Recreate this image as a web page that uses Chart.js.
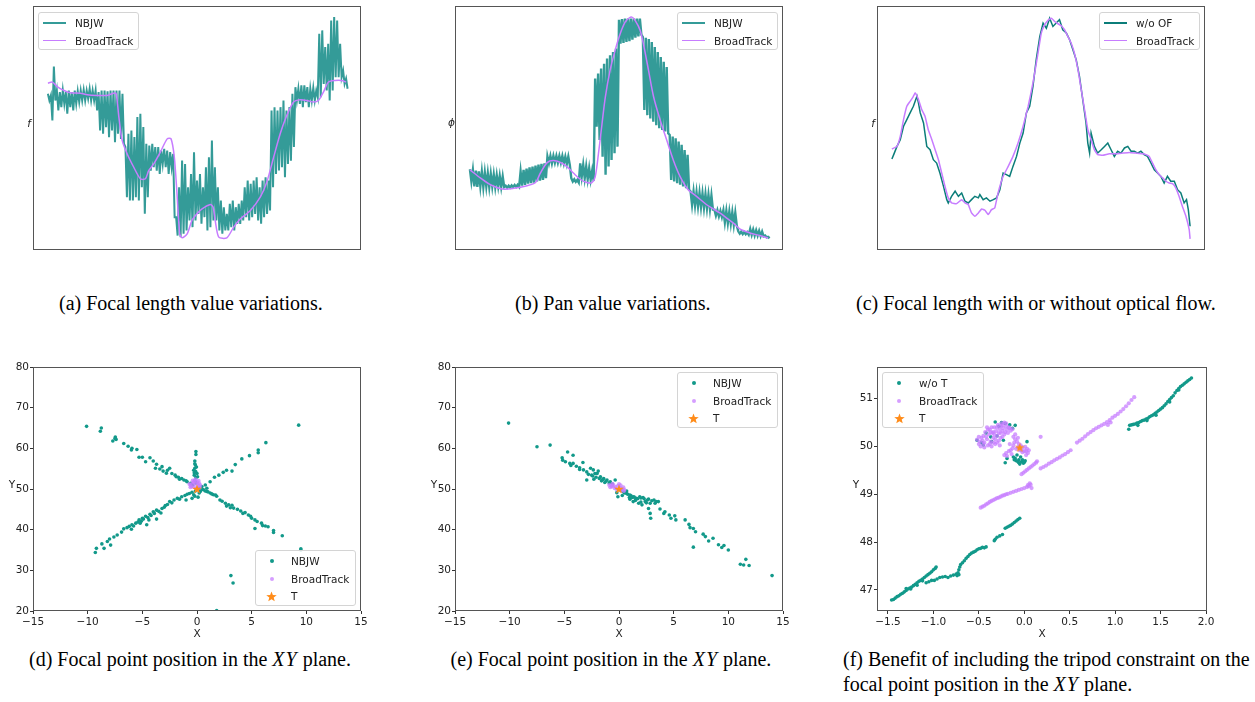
<!DOCTYPE html>
<html>
<head>
<meta charset="utf-8">
<script src="https://cdn.jsdelivr.net/npm/chart.js@4.4.0/dist/chart.umd.min.js"></script>
<style>
  body { margin:0; background:#fff; width:1255px; height:702px; position:relative; overflow:hidden; font-family:"DejaVu Sans", sans-serif; }
  canvas { position:absolute; }
  .cap { position:absolute; font-family:"Liberation Serif","Times New Roman",serif; font-size:20px; line-height:25px; color:#000; white-space:nowrap; }
  .cap i { font-style:italic; letter-spacing:1px; }
  .legend { position:absolute; background:rgba(255,255,255,0.8); border:1px solid #d4d4d4; border-radius:3px; box-sizing:border-box; font-size:10.5px; color:#222; }
  .legend span { position:absolute; white-space:nowrap; line-height:14px; }
  .legend .mk { position:absolute; }
</style>
</head>
<body>
<script>
// ---------- (a) focal length : NBJW jitter band (upper/lower every half frame) and BroadTrack ----------
const nbjwFocalA = [
  65.4,62.4, 64.7,53.4, 77.7,62.4, 66.9,57.9, 66.2,59.4, 66.9,60.9, 66.2,56.4, 66.9,59.4, 66.2,57.9, 66.9,60.9,
  66.6,61.7, 66.9,62.4, 67.2,62.4, 66.9,63.2, 67.7,62.4, 66.9,62.4, 66.9,57.9, 66.2,48.9, 66.9,47.4, 66.9,50.4,
  66.6,45.9, 66.9,48.9, 66.9,43.6, 66.9,47.4, 66.9,45.1, 65.4,42.9, 41.4,18.8, 47.4,17.3, 48.9,17.3, 45.9,18.8,
  54.9,17.3, 56.4,23.3, 50.4,11.3, 42.9,18.8, 42.1,30.8, 42.9,32.3, 41.4,30.8, 41.4,29.3, 39.8,33.8, 40.6,32.3,
  39.8,29.3, 39.1,32.3, 38.3,9.8, 9.8,1.5, 23.3,0.8, 35.3,2.3, 33.8,3.8, 23.3,8.3, 29.3,5.3, 39.1,8.3,
  26.3,11.3, 29.3,6.8, 23.3,9.8, 32.3,3.8, 36.8,5.3, 44.4,8.3, 32.3,8.3, 23.3,3.8, 17.3,2.3, 14.3,3.8,
  11.3,3.8, 15.8,5.3, 17.3,3.8, 14.3,6.8, 15.8,6.8, 17.3,8.3, 23.3,9.8, 26.3,8.3, 24.8,9.8, 26.3,11.3,
  27.8,8.3, 23.3,6.8, 26.3,9.8, 27.8,11.3, 26.3,12.8, 57.9,23.3, 59.4,29.3, 57.9,30.8, 59.4,32.3, 62.4,27.8,
  57.9,33.8, 59.4,35.3, 65.4,41.4, 68.4,62.4, 67.7,60.9, 69.2,59.4, 69.2,61.7, 68.4,59.4, 67.7,62.4, 68.1,62.4,
  66.9,63.9, 92.5,63.9, 94.0,69.9, 86.5,66.9, 88.0,62.4, 98.5,66.9, 100,72.9, 98.5,72.9, 88.0,72.9, 75.9,69.9, 72.2,67.7
];
const btFramesA = [0,1.5,3.1,5.4,7.6,10.9,13.2,16.5,19.9,22.1,22.9,23.8,24.9,26.6,28.8,31.0,32.7,33.8,35.5,37.7,
  40.0,41.3,42.4,43.3,44.2,45.0,46.7,48.3,50.0,51.7,54.5,55.4,56.1,57.3,60.0,62.3,64.5,67.9,71.2,73.4,
  75.7,77.9,80.1,82.4,84.6,86.8,89.1,90.7,92.4,94.1,96.3,98.5,100];
const btFocalA = [70.2,70.7,68.7,66.9,65.9,65.7,65.0,64.7,64.7,65.7,65.4,54.9,44.4,38.3,32.3,27.1,27.1,30.8,33.8,39.1,
  45.1,45.1,36.8,20.3,2.3,0.5,2.3,8.3,11.3,13.5,15.5,14.3,8.3,0.8,0.5,5.3,9.0,12.8,18.8,25.6,
  36.8,47.4,55.6,61.7,62.7,62.4,61.7,62.4,66.2,70.7,71.4,71.4,70.7];

// ---------- (b) pan ----------
const nbjwPanB = [
  31.4,25.9, 31.1,23.7, 30.8,23.4, 30.5,23.7, 30.2,23.4, 29.9,23.7, 29.6,23.4, 29.3,23.7, 29.0,23.4, 28.7,23.7,
  28.4,23.4, 28.1,23.4, 24.0,23.1, 24.0,23.2, 24.1,23.4, 24.3,23.4, 24.4,23.5, 30.4,24.0, 31.1,24.4, 31.7,24.9,
  32.2,25.1, 32.6,25.4, 33.1,25.9, 33.5,26.3, 33.8,26.6, 34.1,27.4, 37.1,34.1, 37.4,34.1, 37.4,34.4, 37.4,34.4,
  37.4,34.4, 37.4,34.1, 37.1,33.8, 37.1,33.4, 27.4,25.9, 26.9,25.7, 26.6,25.4, 34.1,28.1, 33.4,27.4, 32.6,26.9,
  31.9,26.6, 30.8,26.2, 72.3,50.6, 74.6,44.6, 76.8,37.1, 79.0,28.9, 81.3,32.6, 82.8,35.6, 84.3,38.6, 85.8,41.6,
  98.8,88.0, 99.1,88.3, 99.3,88.8, 99.3,89.2, 99.3,89.8, 99.3,90.7, 99.3,91.3, 99.3,92.1, 91.0,58.1, 90.7,55.8,
  90.1,54.3, 88.8,52.8, 86.5,51.3, 84.3,49.9, 82.0,49.1, 79.8,48.4, 77.5,47.6, 46.9,26.6, 46.1,25.9, 45.4,25.1,
  43.9,24.4, 42.4,23.7, 40.1,22.9, 37.9,22.2, 21.4,15.4, 21.3,15.1, 21.0,14.7, 20.7,14.4, 20.4,14.1, 20.1,13.8,
  19.8,13.5, 19.5,13.2, 13.2,10.5, 12.9,10.2, 12.6,9.9, 12.9,7.5, 12.6,7.2, 12.3,6.9, 12.0,6.4, 11.7,6.0,
  3.4,2.4, 3.3,2.2, 3.1,2.1, 3.0,1.9, 4.5,1.8, 4.2,1.6, 3.9,1.5, 3.6,1.3, 3.3,1.2, 1.5,0.7, 0.9,0.3
];
const btFramesB = [0,3.6,6.9,10.8,14.7,19.2,22.0,23.6,25.9,28.1,30.9,33.1,34.8,37.0,39.2,40.9,42.0,43.1,44.3,45.4,
  47.0,48.7,50.4,52.1,53.5,54.3,55.4,57.1,58.4,59.9,61.6,63.8,66.0,68.2,70.5,73.2,76.0,79.4,81.6,83.8,
  86.1,88.3,90.5,93.9,97.2,100];
const btPanB = [31.1,27.4,24.4,22.5,22.8,24.0,25.4,29.6,34.4,35.3,34.1,31.9,29.6,26.9,25.4,25.4,27.9,38.3,51.8,63.8,
  76.0,85.0,92.5,97.8,99.7,100,98.5,94.0,86.5,76.0,64.1,53.6,44.6,35.6,28.1,22.2,19.2,15.4,13.5,11.7,
  9.4,7.2,4.5,2.7,1.5,0.4];

// ---------- (c) focal length with / without optical flow ----------
const wooFramesC = [0.0,0.6,1.7,2.8,3.9,5.0,6.1,7.2,8.4,8.9, 9.5,10.6,11.7,12.8,13.9,15.0,16.1,17.3,18.4,18.9,
  20.0,21.2,22.3,23.4,24.5,25.6,26.7,27.8,29.0,29.5, 30.6,31.7,32.9,34.0,35.1,36.2,37.3,38.4,39.5,40.6,
  41.8,42.9,44.0,45.1,46.2,47.3,48.4,49.6,50.7,51.8, 52.9,54.0,55.1,56.2,57.3,58.5,59.6,60.7,61.8,62.9,
  64.0,65.1,65.7,66.3,66.8,67.9,69.0,70.2,71.3,72.4, 73.5,74.6,75.7,76.8,78.0,79.1,80.2,81.3,82.4,83.5,
  84.6,85.7,86.9,88.0,89.1,90.2,91.3,92.4,93.5,94.7, 95.8,96.9,98.0,98.8,99.4,100];
const wooFocalC = [36.0,38.0,41.7,44.7,50.8,53.8,56.8,59.8,64.3,61.3, 56.8,52.3,41.7,40.2,35.7,34.2,29.7,23.7,17.7,16.2,
  19.2,21.5,19.2,20.7,17.0,16.2,17.7,19.2,18.5,20.0, 17.7,18.5,17.0,17.7,18.5,22.2,29.7,29.0,28.2,32.7,
  37.2,43.2,47.7,56.8,59.8,68.8,80.8,91.3,97.3,95.0, 99.5,95.8,97.3,98.8,94.3,92.8,89.8,85.3,80.8,73.3,
  62.8,52.3,43.2,38.7,47.7,41.7,38.7,40.2,41.7,43.2, 40.2,37.2,39.5,38.7,41.0,41.7,39.5,39.5,38.7,39.5,
  38.0,37.2,34.2,31.2,29.7,28.2,25.2,28.2,26.0,26.0, 22.2,20.7,16.2,17.7,13.2,5.7];
const btFramesC = [0.0,1.7,2.8,3.9,5.0,6.1,7.2,7.8,8.9,10.0, 11.1,12.2,13.4,14.5,15.6,16.7,17.8,18.9,20.0,21.7,
  23.4,24.5,25.6,26.7,27.8,29.0,30.1,31.2,32.3,33.4, 34.5,35.6,37.3,39.0,40.6,42.3,44.0,45.7,47.3,49.0,
  50.1,51.2,52.3,53.5,54.6,55.7,56.8,57.9,59.0,60.1, 61.2,62.4,63.5,64.6,65.7,66.8,67.9,69.0,70.7,72.9,
  75.2,77.4,79.6,81.8,84.1,85.2,86.3,87.4,88.5,89.6, 90.8,91.9,93.0,94.1,95.2,96.3,97.4,98.6,99.7,100];
const btFocalC = [40.5,41.7,46.2,53.8,59.8,62.0,64.3,65.8,62.8,58.3, 55.3,49.2,44.7,40.2,35.7,29.7,23.7,18.5,16.2,15.9,
  17.7,16.2,15.5,11.7,10.2,11.7,13.5,12.9,11.0,13.2, 14.0,20.7,28.2,32.7,37.2,43.2,50.8,59.8,70.3,83.8,
  92.8,96.5,98.5,99.5,98.0,97.0,96.1,94.3,91.3,88.3, 83.8,76.3,67.3,58.3,49.2,44.7,40.2,38.0,37.7,38.4,
  38.4,38.7,39.0,38.7,38.4,38.0,37.2,34.2,31.2,29.0, 27.5,26.0,25.2,24.9,23.0,19.2,14.7,10.2,4.2,0.0];

// ---------- (d) focal point XY, NBJW vs BroadTrack ----------
const nbjwXYD = [
  [-10.1,65.4],[-8.75,65.0],[-8.84,64.2],[-7.47,62.8],[-7.4,62.2],[-7.7,61.8],[-6.7,61.2],[-6.3,60.5],[-5.95,60.0],[-5.5,59.7],
  [-5.3,57.8],[-4.3,57.7],[-4.7,56.7],[-4.0,56.9],[-3.7,56.1],[-3.8,55.1],[-3.2,55.5],[-3.1,54.4],[-2.7,54.6],[-2.5,55.1],
  [-2.3,53.8],[-2.0,53.4],[-1.7,52.9],[-1.4,52.6],[-1.2,52.2],[-0.9,51.8],[-0.6,51.4],[-0.4,51.0],[0.15,50.2],[0.6,49.8],
  [0.9,49.4],[1.2,49.0],[1.5,48.6],[1.8,48.2],[2.1,47.3],[2.6,46.5],[2.9,46.1],[3.05,45.4],[3.35,45.3],[4.0,44.6],
  [4.4,44.2],[4.7,43.6],[5.0,42.8],[5.3,42.4],[5.5,42.0],[5.9,41.6],[6.25,40.9],[5.3,40.3],[7.0,39.8],[7.0,39.3],
  [7.8,38.5],[9.5,35.3],[-1.0,52.0],[-1.6,52.4],[-1.9,53.0],[0.3,49.6],[0.45,49.9],[0.75,49.5],[1.0,49.3],[1.35,48.8],
  [2.3,47.0],[3.2,46.0],[3.7,45.0],[4.2,44.0],[4.9,43.3],[6.0,41.0],[6.5,40.7],[2.7,45.8],[1.7,48.5],[-3.4,54.9],
  [-2.8,53.9],[-5.0,57.8],[-6.0,59.6],[-7.5,62.4],
  [1.8,20.1],[3.1,28.7],[3.3,26.9],[9.3,65.7],
  [-9.3,34.4],[-9.2,35.4],[-8.7,36.5],[-8.5,35.4],[-8.0,37.7],[-7.9,36.2],[-8.2,37.1],[-7.3,38.7],[-6.9,39.4],[-6.7,40.2],
  [-6.2,40.8],[-5.95,41.2],[-5.6,41.6],[-5.3,42.4],[-5.0,42.8],[-4.7,43.3],[-4.6,41.2],[-4.3,43.8],[-4.0,44.4],[-3.7,44.8],
  [-3.7,42.6],[-3.2,45.2],[-2.9,45.9],[-2.5,46.9],[-2.1,47.3],[-1.8,47.7],[-1.4,48.1],[-0.9,48.7],[-0.46,49.2],[-0.15,49.5],
  [0.76,51.0],[1.2,51.8],[1.6,52.9],[2.0,53.4],[2.4,54.1],[2.7,54.6],[3.2,54.4],[3.5,56.0],[4.1,57.4],[4.8,58.2],
  [5.6,59.6],[5.6,58.9],[6.3,61.4],[-7.6,38.2],[-6.4,40.5],[-5.8,40.9],[-5.4,41.9],[-5.1,42.1],[-4.9,42.6],[-4.5,43.0],
  [-4.2,43.5],[-3.9,44.0],[-3.5,44.5],[-3.0,45.5],[-2.7,46.2],[-2.3,46.6],[-1.6,47.5],[-1.1,48.4],[-0.7,48.9],[-5.2,41.6],
  [-6.0,40.1],[-4.4,42.4],[-3.3,44.1],
  [-0.1,59.2],[-0.1,58.5],[-0.2,56.9],[-0.15,55.9],[-0.2,55.1],[-0.12,54.3],[-0.25,53.4],[-0.1,52.8],[-0.2,52.0],[0,53.8],
  [-0.3,54.6],[-0.3,48.6],[-0.45,47.7],[-1.0,47.3],[-0.2,56.2],[-0.05,55.4],[-0.25,54.0],[0.05,53.0],[-0.1,51.5],
  [0.3,49.4],[0.9,50.2],[0.45,50.6],[0.2,49.0],[-0.2,48.2],[0.1,48.0],[9.5,35.0]
];
const btXYD = [[-0.6,51.0],[-0.4,51.5],[-0.2,52.0],[0.0,51.8],[0.2,51.4],[-0.3,50.5],[-0.1,50.2],[0.1,50.8],[-0.5,50.6],[-0.2,51.2],
  [0.3,50.9],[-0.4,52.1],[0.0,50.0],[-0.7,51.2],[0.15,52.0],[-0.3,51.7],[0.25,50.3],[-0.6,50.4],[0.05,51.3],[-0.15,52.4]];
const targetD = [[0, 50]];

// ---------- (e) ----------
const nbjwXYE = [
  [-10.1,66.2],[-7.5,60.4],[-6.3,60.8],[-5.2,57.7],[-4.7,59.1],[-4.2,58.3],[-5.15,57.1],[-4.9,56.7],[-4.5,56.3],[-4.2,56.3],
  [-3.3,56.5],[-3.6,55.2],[-3.25,54.7],[-2.95,54.2],[-2.6,55.1],[-2.35,54.7],[-2.0,53.8],[-2.5,53.4],[-2.95,52.2],[-1.7,53.0],
  [-1.4,52.6],[-1.1,52.2],[-0.8,51.8],[-0.35,52.2],[-1.9,54.4],[-2.2,53.8],[-1.6,52.0],[-0.1,48.1],[0.4,49.3],[0.7,48.9],
  [1.0,48.5],[1.3,48.1],[1.6,47.7],[1.9,48.1],[2.2,47.9],[2.7,47.5],[3.2,47.3],[3.6,46.9],[1.0,47.5],[1.3,46.9],
  [1.8,46.5],[2.1,46.1],[2.4,46.9],[0.95,47.9],[2.85,46.5],[2.7,45.2],[2.85,44.0],[2.9,42.8],[3.75,45.1],[4.1,44.0],
  [4.2,44.4],[4.6,43.6],[4.75,42.8],[5.1,43.4],[5.2,42.4],[6.05,42.4],[6.4,41.3],[6.5,40.5],[6.8,40.3],[7.0,39.5],
  [6.8,35.7],[7.7,38.9],[7.9,38.3],[8.2,37.2],[8.6,37.9],[9.1,36.3],[9.4,35.6],[9.6,36.1],[10.0,35.0],[11.1,31.5],
  [11.4,31.3],[11.6,32.7],[11.9,31.2],[14.0,28.7],[0.25,49.7],[0.7,49.5],
  [-2.8,53.6],[-2.4,53.2],[-2.1,52.9],[-1.8,52.6],[-1.5,52.3],[-1.2,51.9],[-0.9,51.5],[-0.6,51.2],[0.5,49.0],[0.8,48.7],
  [1.1,48.3],[1.4,48.0],[1.7,47.6],[2.0,47.8],[2.3,47.6],[2.6,47.3],[3.0,47.1],[3.4,46.9],[1.5,47.2],[1.2,47.9],
  [2.0,46.8],[2.5,46.6],[3.3,46.5],[-3.9,55.6],[-4.4,55.8],[-1.3,51.6],[-2.3,52.4],[-3.6,54.8],[0.3,48.4],[-0.2,49.1]
];
const btXYE = [[-0.9,51.0],[-0.7,50.8],[-0.5,50.9],[-0.3,50.5],[-0.1,50.8],[0.1,50.3],[0.3,50.0],[0.5,49.8],[-0.8,50.4],[-0.4,50.2],
  [0.0,51.2],[0.2,49.6],[0.4,50.4],[-0.6,51.3],[-0.2,49.9],[-0.65,50.6],[0.15,50.9],[0.45,49.5]];
const targetE = [[0, 50]];

// ---------- (f) with / without tripod constraint ----------
const wooXYF = [
  [-1.46,46.79],[-1.44,46.80],[-1.42,46.83],[-1.40,46.86],[-1.38,46.88],[-1.36,46.91],[-1.34,46.93],[-1.32,46.96],[-1.30,46.99],[-1.28,47.02],
  [-1.26,47.04],[-1.24,47.06],[-1.22,47.09],[-1.20,47.12],[-1.18,47.15],[-1.16,47.18],[-1.14,47.20],[-1.12,47.23],[-1.10,47.26],[-1.08,47.29],
  [-1.06,47.32],[-1.04,47.35],[-1.02,47.38],[-1.00,47.42],[-0.98,47.45],[-0.97,47.48],[-1.30,47.03],[-1.25,47.02],[-1.18,47.10],[-1.12,47.19],
  [-1.08,47.15],[-1.05,47.17],[-1.02,47.20],[-0.99,47.20],[-0.96,47.23],[-0.93,47.26],[-0.90,47.27],[-0.87,47.28],[-0.84,47.26],[-0.81,47.29],
  [-0.78,47.31],[-0.75,47.33],[-0.73,47.36],[-0.72,47.42],[-0.71,47.48],[-0.70,47.53],[-0.68,47.57],[-0.66,47.61],[-0.64,47.66],[-0.62,47.70],
  [-0.60,47.74],[-0.58,47.77],[-0.56,47.79],[-0.54,47.81],[-0.52,47.84],[-0.50,47.86],[-0.48,47.87],[-0.46,47.89],[-0.44,47.88],[-0.42,47.90],
  [-0.74,47.30],[-0.72,47.32],[-0.33,48.03],[-0.32,48.06],[-0.30,48.10],[-0.27,48.13],[-0.24,48.16],[-0.21,48.29],[-0.19,48.31],[-0.17,48.33],
  [-0.15,48.35],[-0.13,48.38],[-0.11,48.41],[-0.09,48.44],[-0.07,48.47],[-0.05,48.50],
  [1.15,50.36],[1.16,50.44],[1.18,50.45],[1.20,50.46],[1.22,50.47],[1.24,50.49],[1.26,50.50],[1.28,50.52],[1.30,50.54],[1.32,50.55],
  [1.34,50.57],[1.36,50.59],[1.38,50.62],[1.40,50.64],[1.42,50.66],[1.44,50.69],[1.46,50.72],[1.48,50.75],[1.50,50.78],[1.52,50.81],
  [1.54,50.85],[1.56,50.89],[1.58,50.94],[1.60,50.98],[1.62,51.02],[1.64,51.06],[1.66,51.12],[1.68,51.17],[1.70,51.21],[1.72,51.25],
  [1.74,51.28],[1.76,51.31],[1.78,51.34],[1.80,51.37],[1.82,51.40],[1.84,51.43],[1.25,50.44],[1.35,50.54],[1.45,50.65],[1.60,50.93],[1.70,51.18],
  [-0.52,50.13],[-0.45,50.03],[-0.37,50.20],[-0.36,50.10],[-0.32,50.51],[-0.25,50.50],[-0.21,50.48],[-0.16,50.45],[-0.10,50.44],[-0.23,50.13],
  [-0.19,49.75],[-0.21,49.66],[-0.12,49.78],[-0.10,49.75],[-0.08,49.82],[-0.06,49.72],[-0.04,49.78],[-0.03,49.68],[-0.01,49.65],[-0.06,49.66],
  [-0.09,49.70],[0.01,49.70],[0.03,50.10],[-0.13,50.38],[-0.42,50.28],[-0.28,50.42],[-0.47,50.08],[-0.30,50.22],
  [-0.07,49.68],[-0.05,49.63],[-0.02,49.72],[-0.11,49.72],[0.00,49.67]
];
const btXYF = [
  [-0.52,50.14],[-0.50,50.05],[-0.48,50.00],[-0.47,50.18],[-0.45,50.22],[-0.44,50.08],[-0.43,50.30],[-0.41,50.15],[-0.40,50.02],[-0.39,50.25],
  [-0.38,50.35],[-0.37,50.10],[-0.35,50.28],[-0.34,50.18],[-0.33,50.40],[-0.32,50.05],[-0.31,50.32],[-0.30,50.22],[-0.29,50.45],[-0.28,50.12],
  [-0.27,50.36],[-0.26,50.28],[-0.25,50.48],[-0.24,50.20],[-0.23,50.38],[-0.22,50.50],[-0.21,50.30],[-0.20,50.42],[-0.19,50.35],[-0.17,50.40],
  [-0.15,50.33],[-0.13,50.36],[-0.36,50.00],[-0.44,49.98],[-0.27,50.02],[-0.24,50.44],
  [-0.50,50.20],[-0.46,50.12],[-0.42,50.20],[-0.40,50.35],[-0.38,50.05],[-0.36,50.40],[-0.34,50.30],[-0.32,50.15],[-0.30,50.40],[-0.28,50.28],
  [-0.26,50.18],[-0.24,50.32],[-0.22,50.25],[-0.20,50.48],[-0.18,50.28],[-0.16,50.38],[-0.26,50.42],[-0.30,50.08],[-0.34,50.08],[-0.45,50.05],
  [-0.49,50.10],[-0.41,50.40],[-0.37,50.30],[-0.33,50.25],
  [-0.12,50.20],[-0.10,50.15],[-0.08,50.10],[-0.06,50.05],[-0.04,50.02],[-0.02,49.98],[0.01,49.99],[0.03,49.95],[0.05,49.92],[0.04,49.86],
  [0.02,49.82],[-0.02,49.88],[-0.05,49.92],[-0.09,49.95],[-0.13,49.96],[-0.17,49.90],[-0.20,49.86],[-0.22,49.82],[-0.14,49.84],[-0.19,49.80],
  [-0.07,50.18],[-0.10,50.25],[0.00,49.90],[0.18,50.20],[-0.11,50.08],[-0.07,49.98],[-0.03,49.92],[0.02,49.90],[-0.15,49.92],[-0.12,50.02],[-0.16,50.05],
  [-0.48,48.72],[-0.46,48.74],[-0.44,48.76],[-0.42,48.79],[-0.40,48.81],[-0.38,48.84],[-0.36,48.86],[-0.34,48.88],[-0.32,48.90],[-0.30,48.92],
  [-0.28,48.93],[-0.26,48.95],[-0.24,48.97],[-0.22,48.98],[-0.20,49.00],[-0.18,49.01],[-0.15,49.03],[-0.12,49.05],[-0.09,49.07],[-0.06,49.09],
  [-0.03,49.11],[0.00,49.13],[0.03,49.15],[0.05,49.17],[0.07,49.20],[0.08,49.13],[0.06,49.23],[0.04,49.19],
  [-0.03,49.42],[-0.01,49.45],[0.01,49.48],[0.03,49.51],[0.05,49.54],[0.07,49.57],[0.09,49.60],[0.11,49.63],[0.13,49.66],[0.14,49.69],
  [0.18,49.54],[0.21,49.57],[0.24,49.60],[0.27,49.64],[0.30,49.67],[0.33,49.71],[0.36,49.74],[0.39,49.77],[0.42,49.81],[0.45,49.84],
  [0.48,49.88],[0.51,49.92],
  [0.58,50.08],[0.61,50.12],[0.64,50.16],[0.67,50.21],[0.70,50.26],[0.73,50.30],[0.76,50.34],[0.79,50.38],[0.82,50.41],[0.85,50.44],
  [0.88,50.47],[0.91,50.51],[0.94,50.55],[0.97,50.60],[1.00,50.64],[1.03,50.68],[1.06,50.73],[1.09,50.78],[1.12,50.84],[1.15,50.90],
  [1.18,50.97],[1.21,51.03],[0.92,50.45],[0.95,50.50]
];
const targetF = [[-0.05, 49.98]];

// tick labels of the bottom row
const xTicksDE = [-15, -10, -5, 0, 5, 10, 15];
const yTicksDE = [20, 30, 40, 50, 60, 70, 80];
const xTicksF = [-1.5, -1.0, -0.5, 0.0, 0.5, 1.0, 1.5, 2.0];
const yTicksF = [47, 48, 49, 50, 51];

// colours
const TEAL_BAND = '#349b98';
const TEAL_DARK = '#0b7d79';
const PURPLE = '#c77dff';
const DOT_TEAL = '#12998a';
const DOT_PURPLE = 'rgba(199,125,255,0.75)';
const ORANGE = '#ff8c1a';

Chart.defaults.font.family = '"DejaVu Sans", sans-serif';
Chart.defaults.font.size = 10.5;
Chart.defaults.color = '#222';

// box round every axes, like matplotlib spines
const framePlugin = {
  id: 'frame',
  afterDraw(chart) {
    const a = chart.chartArea, c = chart.ctx;
    c.save();
    c.strokeStyle = '#555';
    c.lineWidth = 1;
    c.strokeRect(Math.round(a.left) + 0.5, Math.round(a.top) + 0.5, Math.round(a.right - a.left) - 1, Math.round(a.bottom - a.top) - 1);
    c.restore();
  }
};

// upright y label (matplotlib draws these unrotated here)
const sideLabel = {
  id: 'sideLabel',
  afterDraw(chart, args, opts) {
    if (!opts.text) return;
    const a = chart.chartArea, c = chart.ctx;
    c.save();
    c.font = opts.font || '10.5px "DejaVu Sans"';
    c.fillStyle = '#222';
    c.textAlign = 'center';
    c.textBaseline = 'alphabetic';
    c.fillText(opts.text, a.left + opts.dx, (a.top + a.bottom) / 2 + opts.dy);
    c.restore();
  }
};

function starImage(size, color) {
  const cv = document.createElement('canvas');
  cv.width = cv.height = size;
  const c = cv.getContext('2d');
  const r = size / 2, ri = r * 0.42;
  c.beginPath();
  for (let k = 0; k < 10; k++) {
    const ang = -Math.PI / 2 + k * Math.PI / 5;
    const rr = k % 2 ? ri : r;
    c.lineTo(r + rr * Math.cos(ang), r + rr * Math.sin(ang) + 0.4);
  }
  c.closePath();
  c.fillStyle = color;
  c.fill();
  return cv;
}

function makeCanvas(left, top, w, h) {
  const cv = document.createElement('canvas');
  cv.width = w; cv.height = h;
  cv.style.left = left + 'px'; cv.style.top = top + 'px';
  cv.style.width = w + 'px'; cv.style.height = h + 'px';
  document.body.appendChild(cv);
  return cv;
}

function xy(xs, ys) { return xs.map((x, i) => ({ x: x, y: ys[i] })); }
function halfFrames(vals) { return vals.map((v, i) => ({ x: i * 0.5, y: v })); }
function pts(pairs) { return pairs.map(p => ({ x: p[0], y: p[1] })); }
function minus(s) { return String(s).replace('-', '\u2212'); }

// top row: axes box 328 x 244, no ticks
function lineChart(boxLeft, datasets, label) {
  const cv = makeCanvas(boxLeft - 14, 5, 328 + 15, 246);
  return new Chart(cv, {
    type: 'line',
    data: { datasets: datasets },
    options: {
      responsive: false, devicePixelRatio: 1, animation: false,
      layout: { padding: { left: 14, top: 1, right: 1, bottom: 1 } },
      scales: {
        x: { type: 'linear', display: false, min: -5, max: 105 },
        y: { type: 'linear', display: false, min: -5, max: 105 }
      },
      plugins: { legend: { display: false }, tooltip: { enabled: false }, sideLabel: label }
    },
    plugins: [framePlugin, sideLabel]
  });
}

// bottom row: axes box from areaLeft to areaRight, y 367..611
function scatterChart(areaLeft, areaRight, xr, yr, xTicks, yTicks, xFmt, datasets) {
  const w = areaRight - areaLeft;
  const cv = makeCanvas(areaLeft - 40, 357, w + 52, 284);
  const tickOpts = { drawOnChartArea: false, drawTicks: true, tickLength: 3, color: '#333' };
  return new Chart(cv, {
    type: 'scatter',
    data: { datasets: datasets },
    options: {
      responsive: false, devicePixelRatio: 1, animation: false,
      layout: { padding: { left: 0, top: 10, right: 12, bottom: 0 } },
      scales: {
        x: {
          type: 'linear', min: xr[0], max: xr[1],
          grid: tickOpts, border: { display: false },
          afterBuildTicks: s => { s.ticks = xTicks.map(v => ({ value: v })); },
          afterFit: s => { s.height = 30; s.paddingLeft = 0; s.paddingRight = 0; },
          ticks: { padding: 2, maxRotation: 0, autoSkip: false, callback: v => minus(xFmt(v)) },
          title: { display: true, text: 'X', padding: { top: 0, bottom: 0 }, font: { size: 10.5 } }
        },
        y: {
          type: 'linear', min: yr[0], max: yr[1],
          grid: tickOpts, border: { display: false },
          afterBuildTicks: s => { s.ticks = yTicks.map(v => ({ value: v })); },
          afterFit: s => { s.width = 40; s.paddingTop = 0; s.paddingBottom = 0; },
          ticks: { padding: 1, autoSkip: false, callback: v => minus(v) }
        }
      },
      plugins: { legend: { display: false }, tooltip: { enabled: false }, sideLabel: { text: 'Y', dx: -21, dy: -1 } }
    },
    plugins: [framePlugin, sideLabel]
  });
}

// legend box drawn inside the axes, like matplotlib
function htmlLegend(chart, box) {
  const el = document.createElement('div');
  el.className = 'legend';
  Object.assign(el.style, { left: box.left + 'px', top: box.top + 'px', width: box.width + 'px', height: box.height + 'px' });
  chart.data.datasets.forEach((ds, i) => {
    const y = box.rowY[i];
    let mk;
    if (ds.legendKind === 'line') {
      mk = document.createElement('div');
      Object.assign(mk.style, { left: '4px', top: (y - 1) + 'px', width: '23px', height: '1.6px', background: ds.borderColor });
    } else if (ds.legendKind === 'dot') {
      mk = document.createElement('div');
      Object.assign(mk.style, { left: (box.markX - 2) + 'px', top: (y - 2) + 'px', width: '4px', height: '4px', borderRadius: '2px', background: ds.backgroundColor });
    } else {
      mk = starImage(11, ORANGE);
      Object.assign(mk.style, { left: (box.markX - 5.5) + 'px', top: (y - 5.5) + 'px', position: 'absolute' });
    }
    mk.className = 'mk';
    el.appendChild(mk);
    const t = document.createElement('span');
    t.textContent = ds.label;
    t.style.left = box.textX + 'px';
    t.style.top = (y - 7) + 'px';
    el.appendChild(t);
  });
  document.body.appendChild(el);
}

function lineSet(label, data, color, width, order, tension) {
  return { label: label, data: data, borderColor: color, backgroundColor: color, borderWidth: width,
    pointRadius: 0, fill: false, tension: tension, order: order, legendKind: 'line' };
}
function dotSet(label, data, color, radius, order) {
  return { label: label, data: data, backgroundColor: color, borderColor: color, borderWidth: 0,
    pointRadius: radius, order: order, legendKind: 'dot' };
}
const STAR = starImage(10, ORANGE);
function starSet(data) {
  return { label: 'T', data: data, pointStyle: STAR, pointRadius: 5, backgroundColor: ORANGE, order: 0, legendKind: 'star' };
}

// ---- top row ----
const chartA = lineChart(33, [
  lineSet('NBJW', halfFrames(nbjwFocalA), TEAL_BAND, 2, 2, 0),
  lineSet('BroadTrack', xy(btFramesA, btFocalA), PURPLE, 1.5, 1, 0.25)
], { text: 'f', font: 'italic 10.5px "DejaVu Sans"', dx: -4, dy: -1.5 });
htmlLegend(chartA, { left: 38, top: 12, width: 101, height: 38, rowY: [10, 27.5], textX: 36 });

const chartB = lineChart(455, [
  lineSet('NBJW', halfFrames(nbjwPanB), TEAL_BAND, 2.4, 2, 0),
  lineSet('BroadTrack', xy(btFramesB, btPanB), PURPLE, 1.5, 1, 0.3)
], { text: '\u03d5', font: 'italic 10.5px "DejaVu Sans"', dx: -3.5, dy: -2 });
htmlLegend(chartB, { left: 677, top: 12, width: 101, height: 38, rowY: [10, 27.5], textX: 36 });

const chartC = lineChart(877, [
  lineSet('w/o OF', xy(wooFramesC, wooFocalC), TEAL_DARK, 1.5, 2, 0),
  lineSet('BroadTrack', xy(btFramesC, btFocalC), PURPLE, 1.5, 1, 0.1)
], { text: 'f', font: 'italic 10.5px "DejaVu Sans"', dx: -4, dy: -1.5 });
htmlLegend(chartC, { left: 1099, top: 12, width: 101, height: 38, rowY: [10, 27.5], textX: 36 });

// ---- bottom row ----
const chartD = scatterChart(33, 361, [-15, 15], [20, 80], xTicksDE, yTicksDE, v => String(v), [
  dotSet('NBJW', pts(nbjwXYD), DOT_TEAL, 1.8, 2),
  dotSet('BroadTrack', pts(btXYD), DOT_PURPLE, 2, 1),
  starSet(pts(targetD))
]);
htmlLegend(chartD, { left: 255, top: 550, width: 101, height: 56, rowY: [10, 27.5, 45], markX: 15.5, textX: 35 });

const chartE = scatterChart(455, 783, [-15, 15], [20, 80], xTicksDE, yTicksDE, v => String(v), [
  dotSet('NBJW', pts(nbjwXYE), DOT_TEAL, 1.8, 2),
  dotSet('BroadTrack', pts(btXYE), DOT_PURPLE, 2, 1),
  starSet(pts(targetE))
]);
htmlLegend(chartE, { left: 677, top: 372, width: 101, height: 56, rowY: [10, 27.5, 45], markX: 15.5, textX: 35 });

const chartF = scatterChart(877, 1207, [-1.621, 2.011], [46.56, 51.66], xTicksF, yTicksF, v => v.toFixed(1), [
  dotSet('w/o T', pts(wooXYF), DOT_TEAL, 1.8, 2),
  dotSet('BroadTrack', pts(btXYF), DOT_PURPLE, 2.1, 1),
  starSet(pts(targetF))
]);
htmlLegend(chartF, { left: 882, top: 372, width: 102, height: 56, rowY: [10, 27.5, 45], markX: 16, textX: 36 });

// ---- captions ----
const captions = [
  { html: '(a) Focal length value variations.', cx: 191, top: 291 },
  { html: '(b) Pan value variations.', cx: 613, top: 291 },
  { html: '(c) Focal length with or without optical flow.', cx: 1036, top: 291 },
  { html: '(d) Focal point position in the <i>XY</i> plane.', cx: 190, top: 647 },
  { html: '(e) Focal point position in the <i>XY</i> plane.', cx: 611, top: 647 }
];
captions.forEach(c => {
  const d = document.createElement('div');
  d.className = 'cap';
  d.innerHTML = c.html;
  document.body.appendChild(d);
  d.style.top = c.top + 'px';
  d.style.left = (c.cx - d.offsetWidth / 2) + 'px';
});
const capF = document.createElement('div');
capF.className = 'cap';
capF.style.left = '843px';
capF.style.top = '647px';
capF.innerHTML = '(f) Benefit of including the tripod constraint on the<br>focal point position in the <i>XY</i> plane.';
document.body.appendChild(capF);
</script>
</body>
</html>
